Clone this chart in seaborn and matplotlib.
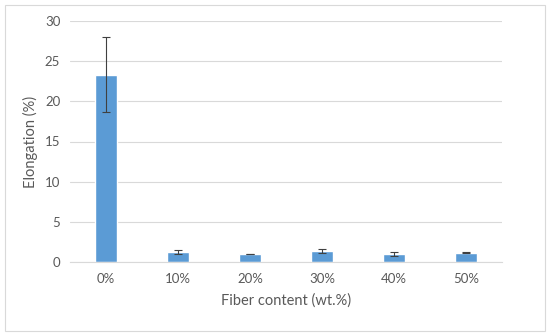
import matplotlib
matplotlib.use("Agg")
import matplotlib.pyplot as plt
import seaborn as sns
import pandas as pd
from matplotlib.patches import Rectangle

categories = ["0%", "10%", "20%", "30%", "40%", "50%"]
elongation = [23.3, 1.25, 1.0, 1.35, 1.0, 1.15]
errors = [4.65, 0.25, 0.05, 0.25, 0.3, 0.07]
y_ticks = [0, 5, 10, 15, 20, 25, 30]

df = pd.DataFrame({"Fiber": categories, "Elongation": elongation})

sns.set_theme(style="white")
plt.rcParams["font.family"] = ["Lato", "DejaVu Sans"]

text_color = "#595959"
fig = plt.figure(figsize=(5.5, 3.36), dpi=100)
ax = fig.add_axes([70 / 550, 1 - 262 / 336, 432 / 550, 241 / 336])

sns.barplot(data=df, x="Fiber", y="Elongation", color="#5B9BD5", width=0.31,
            saturation=1, ax=ax, errorbar=None)
ax.errorbar(range(len(categories)), elongation, yerr=errors, fmt="none",
            ecolor="#404040", elinewidth=0.8, capsize=3, capthick=0.8)

ax.set_ylim(0, 30)
ax.set_xlim(-0.5, len(categories) - 0.5)
ax.set_yticks(y_ticks)
ax.yaxis.grid(True, color="#D9D9D9", linewidth=0.8)
ax.set_axisbelow(True)
for s in ["top", "right", "left"]:
    ax.spines[s].set_visible(False)
ax.spines["bottom"].set_color("#D9D9D9")
ax.spines["bottom"].set_linewidth(0.8)
ax.tick_params(axis="both", length=0, labelsize=9.5, labelcolor=text_color, pad=8)
ax.tick_params(axis="y", pad=7)
ax.set_xlabel("Fiber content (wt.%)", fontsize=10.5, color=text_color, labelpad=6)
ax.set_ylabel("Elongation (%)", fontsize=10.5, color=text_color, labelpad=5)

fig.patches.append(Rectangle((5 / 550, 5 / 336), 540 / 550, 326 / 336,
                             transform=fig.transFigure, fill=False,
                             edgecolor="#D9D9D9", linewidth=0.8))

fig.savefig("out.png", dpi=100)
